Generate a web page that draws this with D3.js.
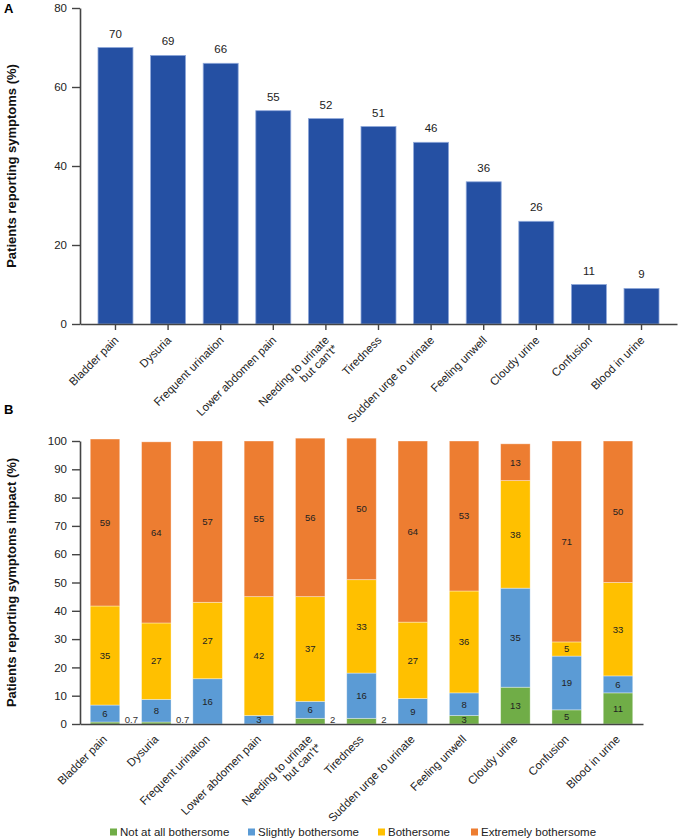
<!DOCTYPE html>
<html>
<head>
<meta charset="utf-8">
<script src="https://cdn.jsdelivr.net/npm/d3@7"></script>
<style>
  html, body { margin: 0; padding: 0; background: #fff; }
  svg { display: block; font-family: "Liberation Sans", Arial, sans-serif; }
</style>
</head>
<body>
<svg id="chart" width="678" height="839"></svg>
<script>
// ---------- Data ----------
const categories = [
  "Bladder pain", "Dysuria", "Frequent urination", "Lower abdomen pain",
  "Needing to urinate\nbut can't*", "Tiredness", "Sudden urge to urinate",
  "Feeling unwell", "Cloudy urine", "Confusion", "Blood in urine"
];
// Panel A: bar heights as drawn, and the printed labels
const reportedValues = [70, 68, 66, 54, 52, 50, 46, 36, 26, 10, 9];
const reportedLabels = ["70", "69", "66", "55", "52", "51", "46", "36", "26", "11", "9"];
const ticksA = [0, 20, 40, 60, 80];

// Panel B: impact series
const seriesNames = ["Not at all bothersome", "Slightly bothersome", "Bothersome", "Extremely bothersome"];
const notAtAll   = [0.7, 0.7, 0, 0, 2, 2, 0, 3, 13, 5, 11];
const slightly   = [6, 8, 16, 3, 6, 16, 9, 8, 35, 19, 6];
const bothersome = [35, 27, 27, 42, 37, 33, 27, 36, 38, 5, 33];
const extremely  = [59, 64, 57, 55, 56, 50, 64, 53, 13, 71, 50];
const ticksB = [0, 10, 20, 30, 40, 50, 60, 70, 80, 90, 100];

const colors = ["#70AD47", "#5B9BD5", "#FFC000", "#ED7D31"];
const barBlue = "#2550A3";

// ---------- Setup ----------
const svg = d3.select("#chart");
const axisColor = "#444";
const seriesValues = [notAtAll, slightly, bothersome, extremely];

function styleAxis(g) {
  g.selectAll(".domain").attr("stroke", axisColor).attr("stroke-width", 1.6);
  g.selectAll(".tick line").attr("stroke", axisColor).attr("stroke-width", 1.4);
  g.selectAll(".tick text").attr("fill", "#222").attr("font-size", 11.5)
    .attr("font-family", "'Liberation Sans', Arial, sans-serif");
}

function drawXLabels(g, x, baseY, offX) {
  categories.forEach((c, i) => {
    const lines = c.split("\n");
    const t = g.append("text")
      .attr("transform", `translate(${x(c) + x.bandwidth() / 2 + offX},${baseY}) rotate(-45)`)
      .attr("text-anchor", "end")
      .attr("font-size", 11.5)
      .attr("fill", "#222");
    lines.forEach((ln, j) => {
      t.append("tspan").attr("x", 0).attr("dy", j === 0 ? "0.35em" : "1.05em").text(ln);
    });
  });
}

// ---------- Panel A ----------
const gA = svg.append("g");
const xA = d3.scaleBand().domain(categories).range([80, 677]).paddingInner(0.335).paddingOuter(0.342);
const yA = d3.scaleLinear().domain([0, 80]).range([324, 8]);

gA.append("text").attr("x", 4).attr("y", 13).attr("font-size", 13).attr("font-weight", "bold").text("A");

gA.selectAll("rect.barA").data(categories).join("rect")
  .attr("class", "barA")
  .attr("x", d => xA(d))
  .attr("y", (d, i) => yA(reportedValues[i]))
  .attr("width", xA.bandwidth())
  .attr("height", (d, i) => yA(0) - yA(reportedValues[i]))
  .attr("fill", barBlue)
  .attr("stroke", "#8FA8DA").attr("stroke-width", 0.8);

gA.selectAll("text.valA").data(categories).join("text")
  .attr("class", "valA")
  .attr("x", d => xA(d) + xA.bandwidth() / 2)
  .attr("y", (d, i) => yA(reportedValues[i]) - 10)
  .attr("text-anchor", "middle")
  .attr("font-size", 11.5)
  .attr("fill", "#222")
  .text((d, i) => reportedLabels[i]);

const yAxisA = gA.append("g").attr("transform", "translate(80,0)")
  .call(d3.axisLeft(yA).tickValues(ticksA).tickSize(8).tickSizeOuter(0).tickPadding(5));
styleAxis(yAxisA);

const xAxisA = gA.append("g").attr("transform", `translate(0,${yA(0)})`)
  .call(d3.axisBottom(xA).tickSize(6).tickSizeOuter(0).tickFormat(""));
styleAxis(xAxisA);
drawXLabels(gA, xA, 338, 1);

gA.append("text")
  .attr("transform", `translate(16,${(yA(0) + yA(80)) / 2}) rotate(-90)`)
  .attr("text-anchor", "middle")
  .attr("font-size", 13).attr("font-weight", "bold").attr("fill", "#111")
  .text("Patients reporting symptoms (%)");

// ---------- Panel B ----------
const gB = svg.append("g");
const xB = d3.scaleBand().domain(categories).range([80, 643]).paddingInner(0.425).paddingOuter(0.2);
const yB = d3.scaleLinear().domain([0, 100]).range([724, 441]);

gB.append("text").attr("x", 4).attr("y", 414).attr("font-size", 13).attr("font-weight", "bold").text("B");

const rows = categories.map((c, i) => ({
  cat: c, idx: i,
  [seriesNames[0]]: notAtAll[i],
  [seriesNames[1]]: slightly[i],
  [seriesNames[2]]: bothersome[i],
  [seriesNames[3]]: extremely[i]
}));
const stacked = d3.stack().keys(seriesNames)(rows);

const layers = gB.selectAll("g.layer").data(stacked).join("g")
  .attr("class", "layer")
  .attr("fill", (d, i) => colors[i]);

layers.selectAll("rect").data(d => d.filter(s => s[1] - s[0] > 0)).join("rect")
  .attr("x", d => xB(d.data.cat))
  .attr("y", d => yB(d[1]))
  .attr("width", xB.bandwidth())
  .attr("height", d => yB(d[0]) - yB(d[1]))
  .attr("stroke", "rgba(255,255,255,0.45)").attr("stroke-width", 0.8);

// segment labels
stacked.forEach((layer, li) => {
  layer.forEach(s => {
    const v = seriesValues[li][s.data.idx];
    if (v <= 0) return;
    const cx = xB(s.data.cat) + xB.bandwidth() / 2;
    if (v < 2.5) {
      gB.append("text")
        .attr("x", xB(s.data.cat) + xB.bandwidth() + 5)
        .attr("y", yB(0) - 1.5)
        .attr("font-size", 9.5).attr("fill", "#333")
        .text(v);
    } else {
      gB.append("text")
        .attr("x", cx)
        .attr("y", yB((s[0] + s[1]) / 2))
        .attr("dy", "0.35em")
        .attr("text-anchor", "middle")
        .attr("font-size", 9.5).attr("fill", "#222")
        .text(v);
    }
  });
});

const yAxisB = gB.append("g").attr("transform", "translate(80,0)")
  .call(d3.axisLeft(yB).tickValues(ticksB).tickSize(8).tickSizeOuter(0).tickPadding(5));
styleAxis(yAxisB);

const xAxisB = gB.append("g").attr("transform", `translate(0,${yB(0)})`)
  .call(d3.axisBottom(xB).tickSize(0).tickSizeOuter(0).tickFormat(""));
styleAxis(xAxisB);
drawXLabels(gB, xB, 737, 0);

gB.append("text")
  .attr("transform", `translate(16,${(yB(0) + yB(100)) / 2}) rotate(-90)`)
  .attr("text-anchor", "middle")
  .attr("font-size", 13).attr("font-weight", "bold").attr("fill", "#111")
  .text("Patients reporting symptoms impact (%)");

// legend
const legendX = [110, 248, 378, 471];
const lg = gB.selectAll("g.leg").data(seriesNames).join("g")
  .attr("class", "leg")
  .attr("transform", (d, i) => `translate(${legendX[i]},832)`);
lg.append("rect").attr("x", 0).attr("y", -3.5).attr("width", 7).attr("height", 7)
  .attr("fill", (d, i) => colors[i]);
lg.append("text").attr("x", 10).attr("dy", "0.35em").attr("font-size", 11.5).attr("fill", "#222")
  .text(d => d);
</script>
</body>
</html>
